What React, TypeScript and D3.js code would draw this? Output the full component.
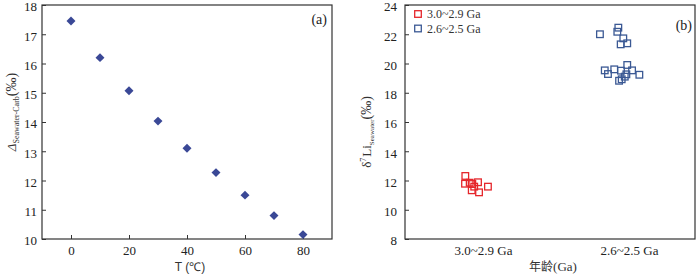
import { useEffect, useRef } from "react";
import * as d3 from "d3";

// (a) fractionation vs temperature
const tempC = [0, 10, 20, 30, 40, 50, 60, 70, 80];
const deltaSeawaterCarb = [17.45, 16.2, 15.07, 14.03, 13.1, 12.27, 11.5, 10.8, 10.15];
const tempTicks = [0, 20, 40, 60, 80];
const deltaTicks = [10, 11, 12, 13, 14, 15, 16, 17, 18];

// (b) seawater d7Li by age group
const ageLabels = ["3.0~2.9 Ga", "2.6~2.5 Ga"];
const oldAgeX = [0.879, 0.877, 0.909, 0.927, 0.966, 0.923, 0.94, 0.973, 1.034];
const oldLiY = [12.31, 11.78, 11.85, 11.76, 11.88, 11.33, 11.58, 11.19, 11.58];
const youngAgeX = [
  1.801, 1.927, 1.92, 1.961, 1.943, 1.988, 1.834, 1.856, 1.899, 1.945, 1.988,
  2.021, 2.071, 1.932, 1.95, 1.971, 1.982,
];
const youngLiY = [
  22.0, 22.45, 22.17, 21.72, 21.31, 21.38, 19.53, 19.28, 19.6, 19.51, 19.9,
  19.53, 19.23, 18.82, 18.92, 19.1, 19.26,
];
const liTicks = [8, 10, 12, 14, 16, 18, 20, 22, 24];

const W = 700;
const H = 275;
const serif = "'Liberation Serif', 'Times New Roman', serif";
const frameColor = "#333";
const diamondColor = "#3a4896";
const redColor = "#e5262b";
const blueColor = "#3b5994";

const App = () => {
  const ref = useRef<SVGSVGElement>(null);

  useEffect(() => {
    const svg = d3.select(ref.current);
    svg.selectAll("*").remove();

    const top = 5;
    const bottom = 239;

    const styleAxis = (g: any) => {
      g.select(".domain").remove();
      g.selectAll(".tick line").attr("stroke", frameColor).attr("stroke-width", 1);
      g.selectAll(".tick text")
        .attr("fill", "#222")
        .attr("font-family", serif)
        .attr("font-size", 13);
    };

    // ---------- panel (a) ----------
    const xa = d3.scaleLinear().domain([-10, 90]).range([42, 332]);
    const ya = d3.scaleLinear().domain([10, 18]).range([bottom, top]);

    const ga = svg.append("g");
    ga.append("g")
      .attr("transform", `translate(0,${bottom})`)
      .call(d3.axisBottom(xa).tickValues(tempTicks).tickSize(-4).tickPadding(7))
      .call(styleAxis);
    ga.append("g")
      .attr("transform", `translate(42,0)`)
      .call(d3.axisLeft(ya).tickValues(deltaTicks).tickSize(-4).tickPadding(5))
      .call(styleAxis)
      .call((g) => g.selectAll(".tick text").attr("dy", "0.45em"));
    ga.append("rect")
      .attr("x", 42)
      .attr("y", top)
      .attr("width", 290)
      .attr("height", bottom - top)
      .attr("fill", "none")
      .attr("stroke", frameColor)
      .attr("stroke-width", 1.2);

    // diamonds = squares turned by 45 degrees
    const diamond = d3.symbol(d3.symbolSquare, 40);
    ga.selectAll("path.pt")
      .data(tempC)
      .enter()
      .append("path")
      .attr("class", "pt")
      .attr("d", diamond)
      .attr(
        "transform",
        (d, i) => `translate(${xa(d)},${ya(deltaSeawaterCarb[i])}) rotate(45)`
      )
      .attr("fill", diamondColor);

    ga.append("text")
      .attr("x", 327)
      .attr("y", 24)
      .attr("text-anchor", "end")
      .attr("font-family", serif)
      .attr("font-size", 14)
      .attr("fill", "#222")
      .text("(a)");

    ga.append("text")
      .attr("x", 190)
      .attr("y", 271)
      .attr("text-anchor", "middle")
      .attr("font-family", "'Liberation Sans', Arial, sans-serif")
      .attr("font-size", 12)
      .attr("fill", "#333")
      .text("T (℃)");

    const yla = ga
      .append("text")
      .attr("transform", "translate(16,112) rotate(-90)")
      .attr("text-anchor", "middle")
      .attr("font-family", serif)
      .attr("font-size", 13)
      .attr("fill", "#333");
    yla.append("tspan").attr("font-style", "italic").text("Δ");
    yla.append("tspan").attr("font-size", 8).attr("dy", 3).text("Seawater-Carb");
    yla.append("tspan").attr("dy", -3).attr("font-size", 14).text("(‰)");

    // ---------- panel (b) ----------
    const xb = d3.scaleLinear().domain([0.466, 2.452]).range([405, 695]);
    const yb = d3.scaleLinear().domain([8, 24]).range([bottom, top]);

    const gb = svg.append("g");
    gb.append("g")
      .attr("transform", `translate(0,${bottom})`)
      .call(
        d3
          .axisBottom(xb)
          .tickValues([1, 2])
          .tickSize(0)
          .tickPadding(7)
          .tickFormat((d: any) => ageLabels[Math.round(d) - 1])
      )
      .call(styleAxis);
    gb.append("g")
      .attr("transform", `translate(405,0)`)
      .call(d3.axisLeft(yb).tickValues(liTicks).tickSize(-4).tickPadding(8))
      .call(styleAxis)
      .call((g) => g.selectAll(".tick text").attr("dy", "0.45em"));
    gb.append("rect")
      .attr("x", 405)
      .attr("y", top)
      .attr("width", 290)
      .attr("height", bottom - top)
      .attr("fill", "none")
      .attr("stroke", frameColor)
      .attr("stroke-width", 1.2);

    const sq = 6.6;
    gb.selectAll("rect.old")
      .data(oldAgeX)
      .enter()
      .append("rect")
      .attr("class", "old")
      .attr("x", (d) => xb(d) - sq / 2)
      .attr("y", (d, i) => yb(oldLiY[i]) - sq / 2)
      .attr("width", sq)
      .attr("height", sq)
      .attr("fill", "none")
      .attr("stroke", redColor)
      .attr("stroke-width", 1.3);

    gb.selectAll("rect.young")
      .data(youngAgeX)
      .enter()
      .append("rect")
      .attr("class", "young")
      .attr("x", (d) => xb(d) - sq / 2)
      .attr("y", (d, i) => yb(youngLiY[i]) - sq / 2)
      .attr("width", sq)
      .attr("height", sq)
      .attr("fill", "none")
      .attr("stroke", blueColor)
      .attr("stroke-width", 1.3);

    // legend
    const legend = [
      { label: ageLabels[0], color: redColor, y: 14 },
      { label: ageLabels[1], color: blueColor, y: 28.5 },
    ];
    const lg = gb
      .selectAll("g.legend")
      .data(legend)
      .enter()
      .append("g")
      .attr("class", "legend")
      .attr("transform", (d) => `translate(418,${d.y})`);
    lg.append("rect")
      .attr("x", -sq / 2)
      .attr("y", -sq / 2)
      .attr("width", sq)
      .attr("height", sq)
      .attr("fill", "none")
      .attr("stroke", (d) => d.color)
      .attr("stroke-width", 1.3);
    lg.append("text")
      .attr("x", 9)
      .attr("dy", "0.35em")
      .attr("font-family", serif)
      .attr("font-size", 12)
      .attr("fill", "#333")
      .text((d) => d.label);

    gb.append("text")
      .attr("x", 692)
      .attr("y", 30)
      .attr("text-anchor", "end")
      .attr("font-family", serif)
      .attr("font-size", 14)
      .attr("fill", "#222")
      .text("(b)");

    const xlb = gb
      .append("text")
      .attr("x", 553)
      .attr("y", 271)
      .attr("text-anchor", "middle")
      .attr("font-size", 13)
      .attr("fill", "#333");
    xlb.append("tspan").attr("font-family", "'Noto Sans CJK SC', sans-serif").attr("font-size", 12).text("年龄");
    xlb.append("tspan").attr("font-family", serif).text("(Ga)");

    const ylb = gb
      .append("text")
      .attr("transform", "translate(371,132) rotate(-90)")
      .attr("text-anchor", "middle")
      .attr("font-family", serif)
      .attr("font-size", 13)
      .attr("fill", "#333");
    ylb.append("tspan").text("δ");
    ylb.append("tspan").attr("font-size", 8).attr("dy", -5).text("7");
    ylb.append("tspan").attr("dy", 5).attr("dx", 1).text("Li");
    ylb.append("tspan").attr("font-size", 7).attr("dy", 3).text("Seawater");
    ylb.append("tspan").attr("dy", -3).attr("font-size", 14).text("(‰)");
  }, []);

  return (
    <svg
      ref={ref}
      width={W}
      height={H}
      style={{ position: "absolute", left: 0, top: 0, background: "#fff" }}
    />
  );
};

export default App;
